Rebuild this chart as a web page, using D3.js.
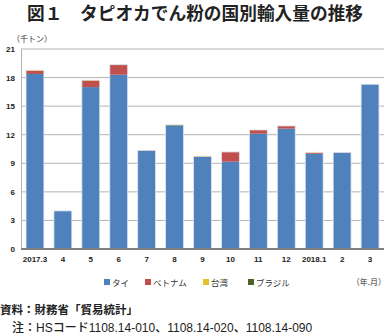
<!DOCTYPE html>
<html><head><meta charset="utf-8">
<script src="https://cdn.jsdelivr.net/npm/d3@7"></script>
<style>
body{margin:0;background:#fff;}
svg{display:block;font-family:"Noto Sans CJK JP","Noto Sans",sans-serif;}
</style></head>
<body><svg id="c" width="388" height="335"></svg>
<script>
// Monthly tapioca starch imports by country (thousand tonnes)
const months = ["2017.3","4","5","6","7","8","9","10","11","12","2018.1","2","3"];
const thai    = [18.38, 4.0, 17.0, 18.3, 10.3, 12.95, 9.7, 9.17, 12.1, 12.64, 10.0, 10.1, 17.3];
const vietnam = [0.35, 0, 0.7, 1.05, 0.06, 0, 0, 1.02, 0.4, 0.28, 0.12, 0.05, 0];
const taiwan  = [0.06, 0, 0.04, 0, 0, 0, 0.06, 0, 0, 0, 0.04, 0, 0];
const brazil  = [0, 0, 0, 0, 0, 0.08, 0, 0, 0, 0, 0, 0, 0];
const seriesNames = ["タイ","ベトナム","台湾","ブラジル"];
const seriesColors = ["#4f81bd","#c0504d","#e6c02a","#4f6228"];
const yTicks = [0,3,6,9,12,15,18,21];

const svg = d3.select("#c");
const margin = {left:21, right:4, top:49, bottom:86};
const W = 388, H = 335;

const rows = months.map((m,i)=>({m, s0:thai[i], s1:vietnam[i], s2:taiwan[i], s3:brazil[i]}));
const stack = d3.stack().keys(["s0","s1","s2","s3"])(rows);

const x = d3.scaleBand().domain(months).range([margin.left, W-margin.right]).paddingInner(0.36).paddingOuter(0.18);
const y = d3.scaleLinear().domain([0,21]).range([H-margin.bottom, margin.top]);

// title
svg.append("text").attr("x",195).attr("y",20).attr("text-anchor","middle")
  .attr("font-size",17.7).attr("font-weight",700).attr("fill","#222")
  .text("図１　タピオカでん粉の国別輸入量の推移");

// unit label
svg.append("text").attr("x",12).attr("y",42).attr("font-size",8).attr("fill","#333").text("（千トン）");

// gridlines
svg.append("g").selectAll("line").data(yTicks.filter(d=>d>0)).join("line")
  .attr("x1",margin.left).attr("x2",W-margin.right)
  .attr("y1",d=>y(d)).attr("y2",d=>y(d))
  .attr("stroke","#b4b4b4").attr("stroke-width",1);

// y axis
const yAxis = svg.append("g").attr("transform",`translate(${margin.left},0)`)
  .call(d3.axisLeft(y).tickValues(yTicks).tickSize(0).tickPadding(6));
yAxis.select(".domain").attr("stroke","#b4b4b4");
yAxis.selectAll("text").attr("font-size",8).attr("font-weight",700).attr("fill","#222")
  .attr("font-family","'Liberation Sans',Arial,sans-serif");

// bars
svg.append("g").selectAll("g").data(stack).join("g")
  .attr("fill",(d,i)=>seriesColors[i])
  .selectAll("rect").data(d=>d).join("rect")
  .attr("x",d=>x(d.data.m))
  .attr("width",x.bandwidth())
  .attr("y",d=>y(d[1]))
  .attr("height",d=>Math.max(0,y(d[0])-y(d[1])));

// light outline around each bar
svg.append("g").selectAll("rect").data(rows).join("rect")
  .attr("x",d=>x(d.m)).attr("width",x.bandwidth())
  .attr("y",d=>y(d.s0+d.s1+d.s2+d.s3))
  .attr("height",d=>y(0)-y(d.s0+d.s1+d.s2+d.s3))
  .attr("fill","none").attr("stroke","#dfe6f0").attr("stroke-width",0.8);

// x axis
const xAxis = svg.append("g").attr("transform",`translate(0,${y(0)})`)
  .call(d3.axisBottom(x).tickSize(0).tickPadding(7));
xAxis.select(".domain").attr("stroke","#7f7f7f").attr("stroke-width",2).attr("d",`M${margin.left},0H${W-margin.right}`);
xAxis.selectAll("text").attr("font-size",8).attr("font-weight",700).attr("fill","#222")
  .attr("font-family","'Liberation Sans',Arial,sans-serif");

// legend
const legendX = [104,145,203,248];
const lg = svg.append("g").selectAll("g").data(seriesNames).join("g")
  .attr("transform",(d,i)=>`translate(${legendX[i]},284)`);
lg.append("rect").attr("x",0).attr("y",-5).attr("width",6).attr("height",6).attr("fill",(d,i)=>seriesColors[i]);
lg.append("text").attr("x",8).attr("y",1.5).attr("font-size",8.5).attr("fill","#333").text(d=>d);

svg.append("text").attr("x",386).attr("y",285).attr("text-anchor","end")
  .attr("font-size",8).attr("fill","#333").text("（年.月）");

// source and note
svg.append("text").attr("x",0).attr("y",314).attr("font-size",11.5).attr("font-weight",700).attr("fill","#222")
  .text("資料：財務省「貿易統計」");
svg.append("text").attr("x",12).attr("y",332).attr("font-size",12).attr("font-weight",500).attr("fill","#222")
  .attr("font-family","'Liberation Sans','Noto Sans CJK JP',sans-serif")
  .text("注：HSコード1108.14-010、1108.14-020、1108.14-090");
</script></body></html>
